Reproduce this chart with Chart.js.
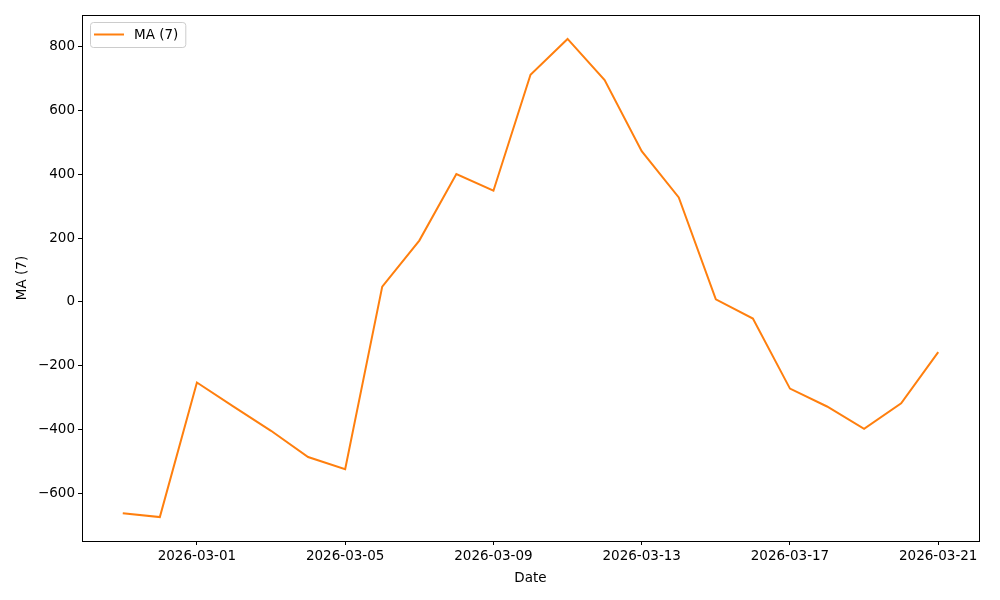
<!DOCTYPE html>
<html>
<head>
<meta charset="utf-8">
<script src="https://cdn.jsdelivr.net/npm/chart.js@4/dist/chart.umd.min.js"></script>
<style>
  html, body { margin: 0; padding: 0; background: #fff; }
  #wrap { width: 1000px; height: 600px; }
</style>
</head>
<body>
<div id="wrap"><canvas id="chart"></canvas></div>
<script>
// Fechas (día) y media móvil de 7 días
const dates = ['2026-02-27', '2026-02-28', '2026-03-01', '2026-03-02', '2026-03-03', '2026-03-04',
  '2026-03-05', '2026-03-06', '2026-03-07', '2026-03-08', '2026-03-09', '2026-03-10',
  '2026-03-11', '2026-03-12', '2026-03-13', '2026-03-14', '2026-03-15', '2026-03-16',
  '2026-03-17', '2026-03-18', '2026-03-19', '2026-03-20', '2026-03-21'];
const maValues = [-661, -673, -252, -328, -403, -485, -523, 48, 192, 400, 348, 711,
  823, 694, 472, 327, 8, -52, -271, -327, -397, -317, -157];

// Etiquetas de los ejes
const xTickLabels = ['2026-03-01', '2026-03-05', '2026-03-09', '2026-03-13', '2026-03-17', '2026-03-21'];
const yTickValues = [-600, -400, -200, 0, 200, 400, 600, 800];

const seriesLabel = 'MA (7)';
const lineColor = '#ff7f0e';
const FONT = "'DejaVu Sans', sans-serif";

// Índice de día respecto a la primera fecha
const dayMs = 24 * 3600 * 1000;
const t0 = Date.parse(dates[0]);
const dayIndex = d => Math.round((Date.parse(d) - t0) / dayMs);
const points = dates.map((d, i) => ({ x: dayIndex(d), y: maValues[i] }));
const xTicks = xTickLabels.map(dayIndex);

// Margen de 5% como matplotlib
const xSpan = dayIndex(dates[dates.length - 1]);
const yMin = Math.min(...maValues), yMax = Math.max(...maValues);
const yPad = (yMax - yMin) * 0.05;

const fmtDate = v => {
  const d = new Date(t0 + v * dayMs);
  return d.toISOString().slice(0, 10);
};

// Marco negro alrededor del área y leyenda estilo matplotlib
const framePlugin = {
  id: 'frame',
  afterDraw(chart) {
    const { ctx, chartArea: a } = chart;
    ctx.save();
    ctx.strokeStyle = '#000';
    ctx.lineWidth = 1;
    ctx.strokeRect(Math.round(a.left) + 0.5, Math.round(a.top) + 0.5,
      Math.round(a.right - a.left), Math.round(a.bottom - a.top));

    // leyenda
    const lx = a.left + 8, ly = a.top + 7;
    ctx.font = '13.5px ' + FONT;
    const tw = ctx.measureText(seriesLabel).width;
    const w = 44 + tw + 7, h = 25;
    ctx.beginPath();
    ctx.roundRect(lx + 0.5, ly + 0.5, w, h, 3);
    ctx.fillStyle = 'rgba(255,255,255,0.8)';
    ctx.fill();
    ctx.strokeStyle = '#cccccc';
    ctx.stroke();
    ctx.beginPath();
    ctx.moveTo(lx + 4, ly + 12.5);
    ctx.lineTo(lx + 34, ly + 12.5);
    ctx.strokeStyle = lineColor;
    ctx.lineWidth = 2;
    ctx.stroke();
    ctx.fillStyle = '#000';
    ctx.textBaseline = 'middle';
    ctx.fillText(seriesLabel, lx + 44, ly + 13);
    ctx.restore();
  }
};

const ctx = document.getElementById('chart').getContext('2d');
new Chart(ctx, {
  type: 'line',
  data: {
    datasets: [{
      label: seriesLabel,
      data: points,
      borderColor: lineColor,
      backgroundColor: lineColor,
      borderWidth: 2,
      pointRadius: 0,
      tension: 0,
      fill: false
    }]
  },
  options: {
    responsive: true,
    maintainAspectRatio: false,
    animation: false,
    layout: { padding: { left: 14, right: 21, top: 15, bottom: 0 } },
    plugins: {
      legend: { display: false },
      tooltip: { enabled: false }
    },
    scales: {
      x: {
        type: 'linear',
        min: -xSpan * 0.05,
        max: xSpan * 1.05,
        afterBuildTicks: s => { s.ticks = xTicks.map(v => ({ value: v })); },
        afterFit: s => { s.height = 59; },
        grid: { display: true, drawOnChartArea: false, drawTicks: true, tickLength: 4, color: '#000' },
        border: { display: false },
        ticks: {
          color: '#000',
          font: { family: FONT, size: 13.5 },
          maxRotation: 0,
          padding: 3,
          callback: v => fmtDate(v)
        },
        title: {
          display: true,
          text: 'Date',
          color: '#000',
          font: { family: FONT, size: 13.5 },
          padding: { top: 4, bottom: 13 }
        }
      },
      y: {
        min: yMin - yPad,
        max: yMax + yPad,
        afterBuildTicks: s => { s.ticks = yTickValues.map(v => ({ value: v })); },
        afterFit: s => { s.width = 68; },
        grid: { display: true, drawOnChartArea: false, drawTicks: true, tickLength: 4, color: '#000' },
        border: { display: false },
        ticks: {
          color: '#000',
          font: { family: FONT, size: 13.5 },
          padding: 3,
          callback: v => (v < 0 ? '\u2212' + Math.abs(v) : String(v))
        },
        title: {
          display: true,
          text: seriesLabel,
          color: '#000',
          font: { family: FONT, size: 13.5 },
          padding: { top: 0, bottom: 6 }
        }
      }
    }
  },
  plugins: [framePlugin]
});
</script>
</body>
</html>
